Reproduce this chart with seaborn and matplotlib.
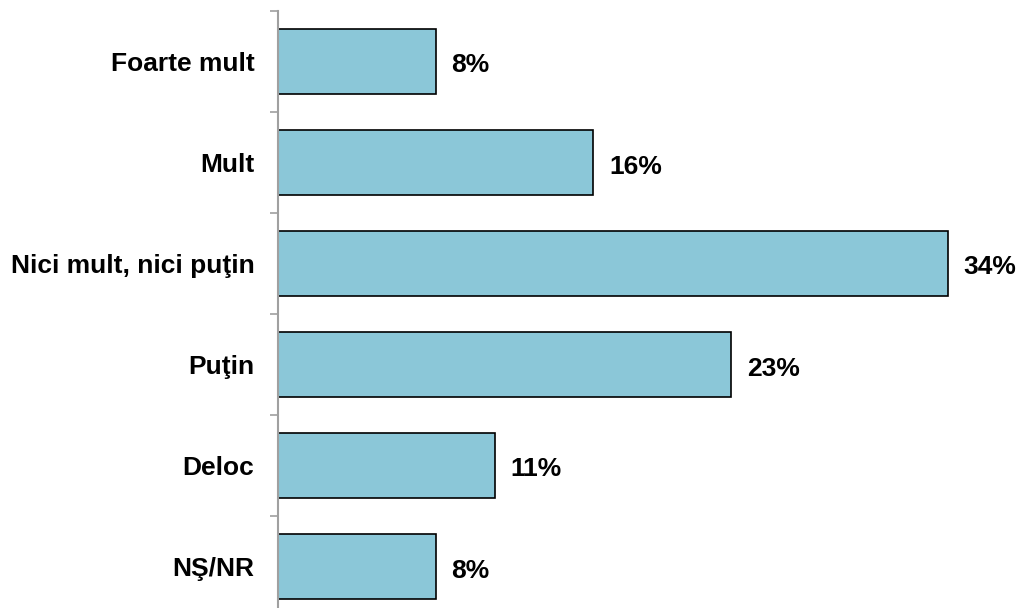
import matplotlib
matplotlib.use("Agg")
import matplotlib.pyplot as plt
import seaborn as sns
import numpy as np

categories = ["Foarte mult", "Mult", "Nici mult, nici puţin", "Puţin", "Deloc", "NŞ/NR"]
values = [8, 16, 34, 23, 11, 8]
value_labels = ["8%", "16%", "34%", "23%", "11%", "8%"]

sns.set_style("white")
plt.rcParams['font.family'] = ['Liberation Sans', 'DejaVu Sans']
plt.rcParams['text.color'] = 'black'
plt.rcParams['ytick.color'] = 'black'

W, H = 1020, 608
fig = plt.figure(figsize=(W / 100, H / 100), dpi=100)
px_per_unit = 19.7
xmax = 37
left = 278 / W
width = xmax * px_per_unit / W
top_px = 11
height_px = 101 * len(categories)
ax = fig.add_axes([left, (H - top_px - height_px) / H, width, height_px / H])

sns.barplot(x=values, y=categories, orient="h", color="#8BC7D8", saturation=1,
            edgecolor="black", linewidth=1.2, width=0.65, ax=ax)

ax.set_xlim(0, xmax)
ax.set_ylim(len(categories) - 0.5, -0.5)
ax.set_xlabel("")
ax.set_ylabel("")
ax.set_xticks([])
for s in ["top", "right", "bottom"]:
    ax.spines[s].set_visible(False)
ax.spines["left"].set_color("#A0A0A0")
ax.spines["left"].set_linewidth(1.5)
ax.spines["left"].set_zorder(5)

ax.tick_params(axis="y", which="major", left=True, length=0, pad=17, labelcolor="black")
ax.set_yticks(np.arange(-0.5, len(categories), 1), minor=True)
ax.tick_params(axis="y", which="minor", left=True, length=6, width=1.2,
               color="#A0A0A0", direction="out")
for lbl in ax.get_yticklabels():
    lbl.set_fontweight("bold")
    lbl.set_fontsize(19)
    lbl.set_color("black")

for i, (v, t) in enumerate(zip(values, value_labels)):
    ax.text(v + 16 / px_per_unit, i + 4 / 101, t, va="center", ha="left",
            fontsize=19, fontweight="bold", color="black")

fig.savefig("out.png", dpi=100)
